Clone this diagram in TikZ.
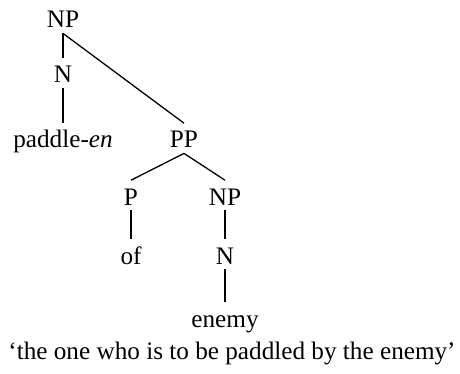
\documentclass[tikz,border=0pt]{standalone}
\usepackage{fontspec}
\setmainfont{Liberation Serif}
\usepackage{tikz}

\begin{document}
\begin{tikzpicture}[
  x=0.5pt, y=-0.5pt,
  cat/.style={anchor=base, inner xsep=1pt, inner ysep=2pt, text height=10.2pt, text depth=0.5pt, font=\fontsize{12.6}{14}\selectfont},
  branch/.style={line width=0.65pt, black}
]
\useasboundingbox (0,0) rectangle (460,374);
\node[cat] (np) at (63,28) {NP};
\node[cat] (n) at (63,83) {N};
\node[cat] (paddle) at (63,148) {paddle-\emph{en}};
\node[cat] (pp) at (184,148) {PP};
\node[cat] (p) at (131,205) {P};
\node[cat] (npb) at (225,205) {NP};
\node[cat] (of) at (131,264) {of};
\node[cat] (nb) at (225,264) {N};
\node[cat] (enemy) at (225,327) {enemy};
\node[anchor=base, font=\fontsize{12.6}{14}\selectfont] (gloss) at (232,359) {`the one who is to be paddled by the enemy'};
\draw[branch] (np.south) -- (n.north);
\draw[branch] (np.south) -- (pp.north);
\draw[branch] (n.south) -- (paddle.north);
\draw[branch] (pp.south) -- (p.north);
\draw[branch] (pp.south) -- (npb.north);
\draw[branch] (p.south) -- (of.north);
\draw[branch] (npb.south) -- (nb.north);
\draw[branch] (nb.south) -- (enemy.north);
\end{tikzpicture}
\end{document}
